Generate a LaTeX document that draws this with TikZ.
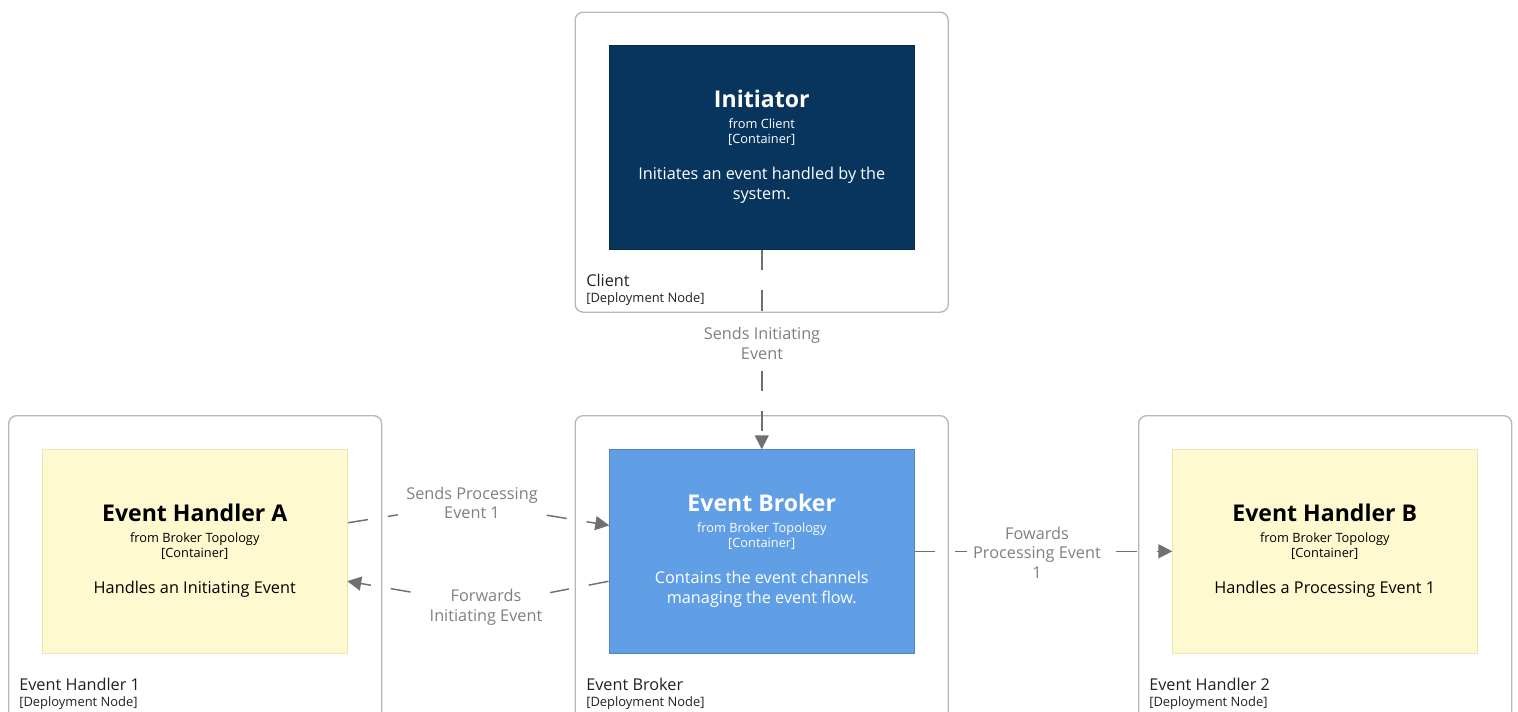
\documentclass[tikz,border=0pt]{standalone}
\usepackage{fontspec}
\setmainfont{Open Sans}
\usetikzlibrary{arrows.meta}
\definecolor{dkblue}{HTML}{08355D}
\definecolor{dkblueb}{HTML}{062A4A}
\definecolor{midblue}{HTML}{609EE5}
\definecolor{midblueb}{HTML}{4F86C6}
\definecolor{paleyel}{HTML}{FFF9CF}
\definecolor{paleyelb}{HTML}{EDE6B4}
\definecolor{depline}{HTML}{B8B8B8}
\definecolor{conn}{HTML}{707070}
\definecolor{lab}{HTML}{808080}
\definecolor{txt}{HTML}{222222}
\newcommand{\ctitle}[1]{{\fontsize{17.3}{15}\selectfont\bfseries #1}}
\newcommand{\cmeta}[1]{{\fontsize{9.6}{15}\selectfont #1}}
\newcommand{\cdesc}[1]{{\fontsize{12.2}{15}\selectfont #1}}
\newcommand{\cbody}[3]{\ctitle{#1}\\[0.75pt]\cmeta{#2}\\[-3.75pt]\cmeta{[Container]}\\[12pt]#3\\[-10.5pt]\mbox{}}
\tikzset{
  depbox/.style={draw=depline,line width=1pt,fill=white,rounded corners=6pt,minimum width=279.75pt,inner sep=0pt,anchor=north west},
  cont/.style={minimum width=229.1pt,minimum height=153.4pt,inner sep=0pt,anchor=north west,align=center,line width=.8pt,font=\fontsize{12.2}{15}\selectfont},
  initbox/.style={cont,fill=dkblue,draw=dkblueb,text=white},
  brokbox/.style={cont,fill=midblue,draw=midblueb,text=white},
  handbox/.style={cont,fill=paleyel,draw=paleyelb,text=black},
  depname/.style={anchor=north west,inner sep=0pt,align=left,text=txt},
  link/.style={draw=conn,line width=1.1pt,dash pattern=on 15.1pt off 15.1pt,shorten >=-0.6pt,-{Triangle[length=10.5pt,width=10.5pt,fill=conn]}},
  linklabel/.style={fill=white,text=lab,align=center,inner xsep=6pt,inner ysep=3pt,font=\fontsize{12.2}{14.6}\selectfont}
}
\newcommand{\dlabel}[1]{{\fontsize{12.2}{14}\selectfont #1}\\[0pt]{\fontsize{9.7}{12}\selectfont [Deployment Node]}}
\begin{document}
\begin{tikzpicture}[x=0.75pt,y=-0.75pt]
\useasboundingbox (0,0) rectangle (1518,711);
\clip (0,0) rectangle (1518,711);
% deployment nodes
\node[depbox,minimum height=225pt] (dClient) at (574.5,11.5) {};
\node[depbox,minimum height=260pt] (dBroker) at (574.5,415) {};
\node[depbox,minimum height=260pt] (dOne) at (8,415) {};
\node[depbox,minimum height=260pt] (dTwo) at (1138,415) {};
% containers
\node[initbox] (init) at (608.5,44.5) {\cbody{Initiator}{from Client}{\cdesc{Initiates an event handled by the}\\\cdesc{system.}}};
\node[brokbox] (brok) at (608.5,448.5) {\cbody{Event Broker}{from Broker Topology}{\cdesc{Contains the event channels}\\\cdesc{managing the event flow.}}};
\node[handbox] (hA) at (41.5,448.5) {\cbody{Event Handler A}{from Broker Topology}{\cdesc{Handles an Initiating Event}}};
\node[handbox] (hB) at (1171.5,448.5) {\cbody{Event Handler B}{from Broker Topology}{\cdesc{Handles a Processing Event 1}}};
% deployment captions
\node[depname] (tClient) at (586,274) {\dlabel{Client}};
\node[depname] (tBroker) at (586,678) {\dlabel{Event Broker}};
\node[depname] (tOne) at (19,678) {\dlabel{Event Handler 1}};
\node[depname] (tTwo) at (1149,678) {\dlabel{Event Handler 2}};
% connectors
\coordinate (bendA) at (472,503);
\coordinate (bendB) at (486,605);
\draw[link] (init.south) -- (brok.north);
\draw[link] ([yshift=21.4pt]hA.east) -- (bendA) -- ([yshift=19.5pt]brok.west);
\draw[link] ([yshift=-22.5pt]brok.west) -- (bendB) -- ([yshift=-22.5pt]hA.east);
\draw[link] (brok.east) -- (hB.west);
% connector labels
\node[linklabel] (l1) at (762,343.5) {Sends Initiating\\Event};
\node[linklabel] (l2) at (bendA) {Sends Processing\\Event 1};
\node[linklabel,yshift=-1.8pt] (l3) at (bendB) {Forwards\\Initiating Event};
\node[linklabel,inner xsep=5pt] (l4) at (1037,552.5) {Fowards\\Processing Event\\1};
\end{tikzpicture}
\end{document}
